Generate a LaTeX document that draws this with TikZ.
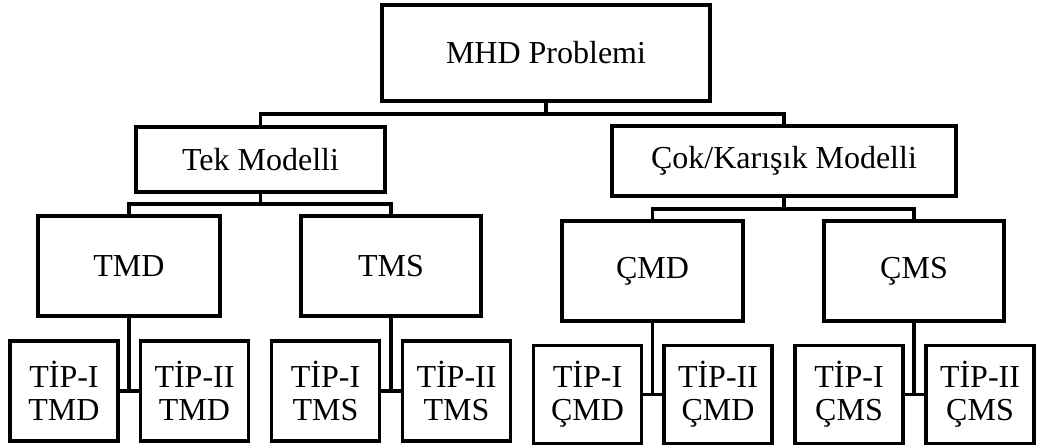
\documentclass[tikz,border=0pt]{standalone}
\usepackage{fontspec}
\setmainfont{Liberation Serif}
\begin{document}
\begin{tikzpicture}[x=1pt,y=-1pt,
  box/.style={draw=black,line width=3.2pt,fill=white,inner sep=0pt,align=center,
    font=\fontsize{32}{33}\selectfont},
  link/.style={draw=black,line width=3.2pt}]
\useasboundingbox (0,0) rectangle (1040,446);

% root
\node[box,minimum width=328pt,minimum height=96pt] (mhd) at (546,53) {MHD Problemi};

% model families
\node[box,minimum width=249pt,minimum height=65pt] (tek) at (260.5,159.5) {Tek Modelli};
\node[box,minimum width=344pt,minimum height=70pt] (cok) at (784,161) {Çok/Karışık Modelli};

% methods
\node[box,minimum width=182pt,minimum height=100pt] (tmd) at (129,266) {TMD};
\node[box,minimum width=180pt,minimum height=100pt] (tms) at (391,266) {TMS};
\node[box,minimum width=181pt,minimum height=100pt] (cmd) at (652.5,271) {ÇMD};
\node[box,minimum width=180pt,minimum height=100pt] (cms) at (914,271) {ÇMS};

% types
\node[box,minimum width=108pt,minimum height=100pt] (t1tmd) at (64,391) {TİP-I\\TMD};
\node[box,minimum width=108pt,minimum height=100pt] (t2tmd) at (194.5,391) {TİP-II\\TMD};
\node[box,minimum width=108pt,minimum height=100pt] (t1tms) at (325.5,391) {TİP-I\\TMS};
\node[box,minimum width=108pt,minimum height=100pt] (t2tms) at (456.5,391) {TİP-II\\TMS};
\node[box,minimum width=108pt,minimum height=98pt] (t1cmd) at (587.5,394.5) {TİP-I\\ÇMD};
\node[box,minimum width=108pt,minimum height=98pt] (t2cmd) at (718,394.5) {TİP-II\\ÇMD};
\node[box,minimum width=108pt,minimum height=98pt] (t1cms) at (849,394.5) {TİP-I\\ÇMS};
\node[box,minimum width=108pt,minimum height=98pt] (t2cms) at (980,394.5) {TİP-II\\ÇMS};

% bus points
\coordinate (b1) at (546,114);
\coordinate (b2) at (260.5,204);
\coordinate (b3) at (784,209);

% connectors
\draw[link] (mhd.south) -- (b1);
\draw[link] (tek.north) |- (b1) -| (cok.north);
\draw[link] (tek.south) -- (b2);
\draw[link] (tmd.north) |- (b2) -| (tms.north);
\draw[link] (cok.south) -- (b3);
\draw[link] (cmd.north) |- (b3) -| (cms.north);

\draw[link] (tmd.south) -- (tmd.south |- t1tmd.east);
\draw[link] (t1tmd.east) -- (t2tmd.west);
\draw[link] (tms.south) -- (tms.south |- t1tms.east);
\draw[link] (t1tms.east) -- (t2tms.west);
\draw[link] (cmd.south) -- (cmd.south |- t1cmd.east);
\draw[link] (t1cmd.east) -- (t2cmd.west);
\draw[link] (cms.south) -- (cms.south |- t1cms.east);
\draw[link] (t1cms.east) -- (t2cms.west);
\end{tikzpicture}
\end{document}
